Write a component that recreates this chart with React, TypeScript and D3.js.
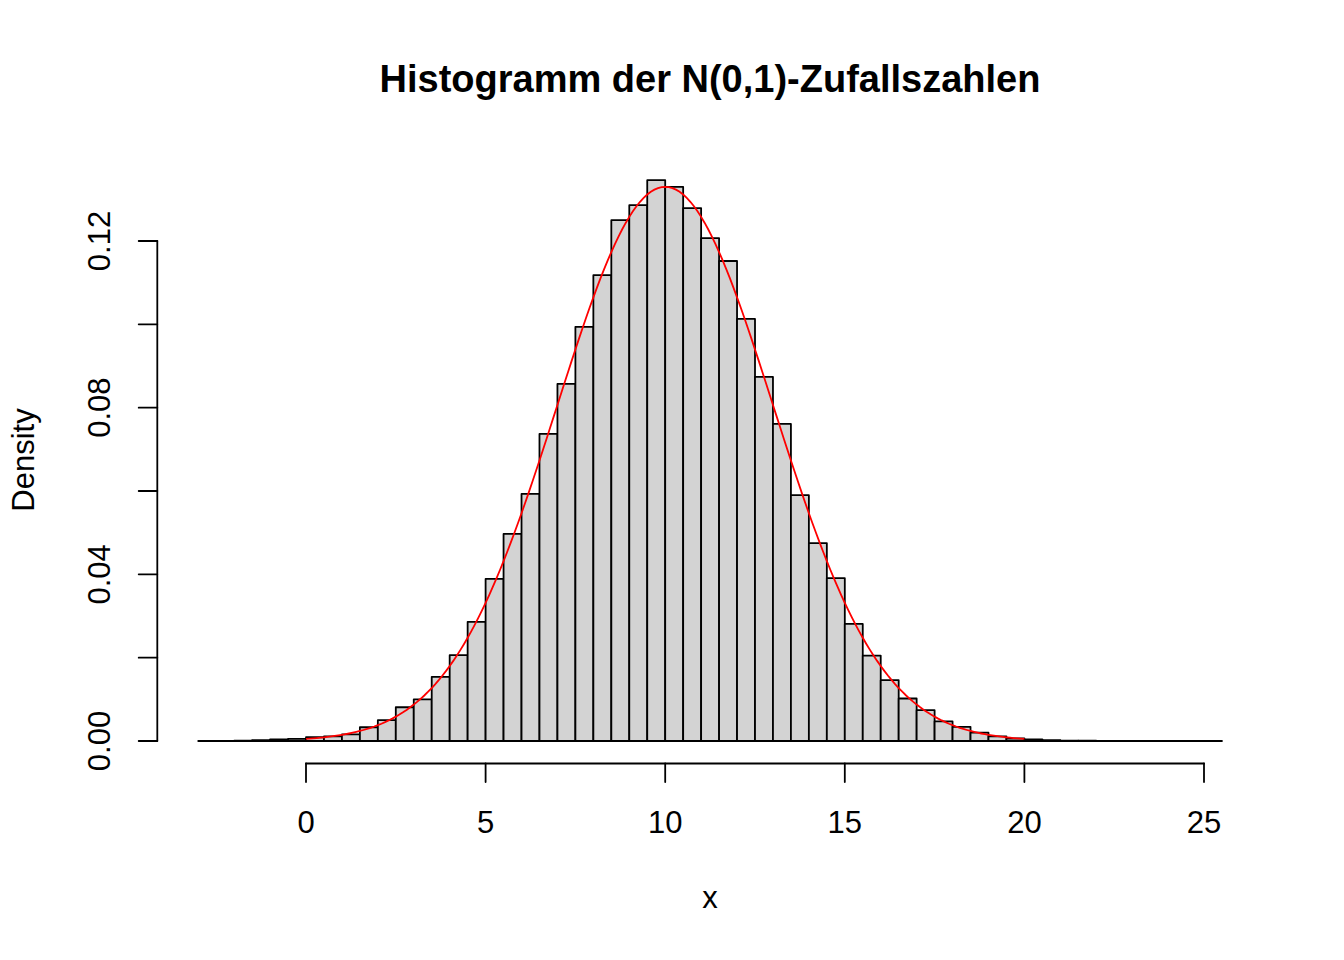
import React from "react";
import * as d3 from "d3";

const binStarts: number[] = [
  -3, -2.5, -2, -1.5, -1, -0.5, 0, 0.5, 1, 1.5, 2, 2.5, 3, 3.5, 4, 4.5, 5, 5.5, 6, 6.5,
  7, 7.5, 8, 8.5, 9, 9.5, 10, 10.5, 11, 11.5, 12, 12.5, 13, 13.5, 14, 14.5, 15, 15.5,
  16, 16.5, 17, 17.5, 18, 18.5, 19, 19.5, 20, 20.5, 21, 21.5, 22, 22.5, 23, 23.5, 24,
  24.5, 25,
];
const binWidth = 0.5;
const densities: number[] = [
  0.00002, 0.00003, 0.00008, 0.0002, 0.0004, 0.0005, 0.0009, 0.0011, 0.0016, 0.0033,
  0.005, 0.0081, 0.01, 0.0154, 0.0206, 0.0286, 0.0389, 0.0497, 0.0593, 0.0737, 0.0857,
  0.0994, 0.1118, 0.125, 0.1286, 0.1346, 0.133, 0.1279, 0.1207, 0.1152, 0.1013, 0.0874,
  0.0761, 0.059, 0.0475, 0.0391, 0.0281, 0.0205, 0.0146, 0.0102, 0.0074, 0.0047,
  0.0034, 0.002, 0.0011, 0.0006, 0.0004, 0.0002, 0.0001, 0.00006, 0.00004, 0.00003,
  0.00002, 0.00001, 0.00001, 0, 0.00001,
];
const xTicks: number[] = [0, 5, 10, 15, 20, 25];
const yTicks: number[] = [0, 0.02, 0.04, 0.06, 0.08, 0.1, 0.12];
const yTickLabels: string[] = ["0.00", "", "0.04", "", "0.08", "", "0.12"];
const curveMean = 10;
const curveSd = 3;
const curveFrom = 0;
const curveTo = 20;

const W = 1344;
const H = 960;
const font = "'Liberation Sans', Arial, Helvetica, sans-serif";
const fs = 31;
const lw = 1.8;

export default function App() {
  const x = d3.scaleLinear().domain([0, 25]).range([306, 1204]);
  const y = d3.scaleLinear().domain([0, 0.12]).range([741, 241]);
  const axisY = 763.5;
  const axisX = 157.3;
  const tick = 18.6;

  const curvePts: [number, number][] = d3
    .range(0, 201)
    .map((i) => curveFrom + ((curveTo - curveFrom) * i) / 200)
    .map((v) => [
      v,
      Math.exp(-((v - curveMean) ** 2) / (2 * curveSd * curveSd)) /
        (curveSd * Math.sqrt(2 * Math.PI)),
    ]);
  const line = d3
    .line<[number, number]>()
    .x((d) => x(d[0]))
    .y((d) => y(d[1]));

  return (
    <svg width={W} height={H} style={{ position: "absolute", left: 0, top: 0, background: "#fff" }}>
      <rect x={0} y={0} width={W} height={H} fill="#fff" />
      <text x={710} y={92} textAnchor="middle" fontFamily={font} fontWeight="bold" fontSize={38}>
        Histogramm der N(0,1)-Zufallszahlen
      </text>
      {binStarts.map((b, i) => {
        const x0 = x(b);
        const x1 = x(b + binWidth);
        const y0 = y(0);
        const y1 = y(densities[i]);
        return (
          <path
            key={i}
            d={`M${x0},${y0}V${y1}H${x1}V${y0}Z`}
            fill="#d3d3d3"
            stroke="#000"
            strokeWidth={lw}
            strokeLinejoin="round"
          />
        );
      })}
      <path d={line(curvePts) || ""} fill="none" stroke="#ff0000" strokeWidth={lw} />
      {/* x axis */}
      <line x1={x(xTicks[0])} x2={x(xTicks[xTicks.length - 1])} y1={axisY} y2={axisY} stroke="#000" strokeWidth={lw} strokeLinecap="round" />
      {xTicks.map((t) => (
        <g key={t}>
          <line x1={x(t)} x2={x(t)} y1={axisY} y2={axisY + tick} stroke="#000" strokeWidth={lw} strokeLinecap="round" />
          <text x={x(t)} y={833} textAnchor="middle" fontFamily={font} fontSize={fs}>
            {t}
          </text>
        </g>
      ))}
      {/* y axis */}
      <line x1={axisX} x2={axisX} y1={y(yTicks[0])} y2={y(yTicks[yTicks.length - 1])} stroke="#000" strokeWidth={lw} strokeLinecap="round" />
      {yTicks.map((t, i) => (
        <g key={t}>
          <line x1={axisX - tick} x2={axisX} y1={y(t)} y2={y(t)} stroke="#000" strokeWidth={lw} strokeLinecap="round" />
          {yTickLabels[i] && (
            <text
              transform={`translate(110,${y(t)}) rotate(-90)`}
              textAnchor="middle"
              fontFamily={font}
              fontSize={fs}
            >
              {yTickLabels[i]}
            </text>
          )}
        </g>
      ))}
      <text x={710} y={908} textAnchor="middle" fontFamily={font} fontSize={fs}>
        x
      </text>
      <text transform="translate(34,460) rotate(-90)" textAnchor="middle" fontFamily={font} fontSize={fs}>
        Density
      </text>
    </svg>
  );
}
